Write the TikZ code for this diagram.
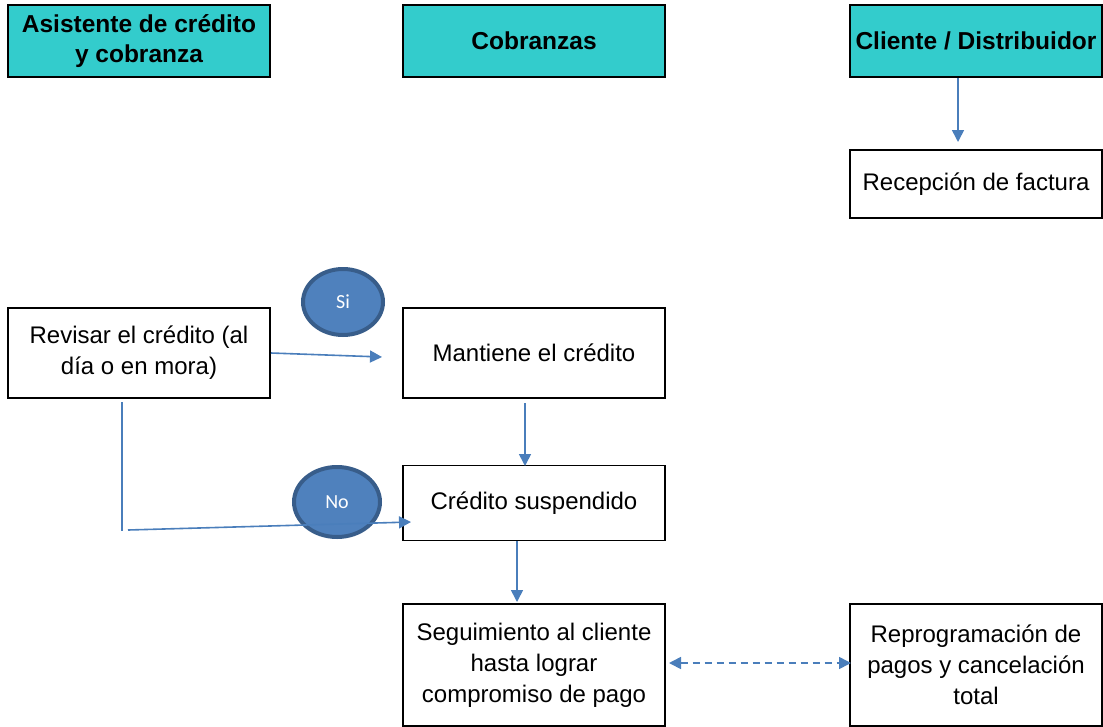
\documentclass[tikz,border=0pt]{standalone}
\usepackage{fontspec}
\setmainfont{Liberation Sans}
\newfontfamily\calfont{Carlito}
\usetikzlibrary{arrows.meta,shapes.geometric}
\definecolor{teal1}{HTML}{33CCCC}
\definecolor{lineblue}{HTML}{4A7EBB}
\definecolor{ellfill}{HTML}{4F81BD}
\definecolor{elldraw}{HTML}{385D8A}
\tikzset{
  hdr/.style={draw=black, line width=2pt, fill=teal1, minimum width=262pt, minimum height=72pt, align=center, font=\fontsize{24.5}{30}\selectfont\bfseries, inner sep=2pt},
  procbox/.style={draw=black, line width=1.8pt, fill=white, align=center, font=\fontsize{24}{31}\selectfont, inner sep=2pt},
  conn/.style={draw=lineblue, line width=1.6pt, -{Triangle[length=12pt,width=12pt]}},
  plain/.style={draw=lineblue, line width=1.6pt},
  dec/.style={ellipse, draw=elldraw, line width=4pt, fill=ellfill, text=white, font=\calfont\fontsize{20}{24}\selectfont, minimum width=80pt, minimum height=66pt, inner sep=0pt}
}
\begin{document}
\begin{tikzpicture}[x=1pt,y=-1pt]
\useasboundingbox (0,0) rectangle (1103,726);
% headers
\node[hdr, minimum width=262pt] (h1) at (139,41) {Asistente de crédito\\y cobranza};
\node[hdr, minimum width=262pt] (h2) at (534,41) {Cobranzas};
\node[hdr, minimum width=252pt] (h3) at (976,41) {Cliente / Distribuidor};
% process boxes
\node[procbox, minimum width=252pt, minimum height=68pt] (rec) at (976,184) {Recepción de factura};
\node[procbox, minimum width=262pt, minimum height=90pt] (rev) at (139,353) {Revisar el crédito (al\\día o en mora)};
\node[procbox, minimum width=262pt, minimum height=90pt] (man) at (534,353) {Mantiene el crédito};
\node[procbox, minimum width=262pt, minimum height=75pt] (sus) at (534,503) {Crédito suspendido};
\node[procbox, minimum width=262pt, minimum height=122pt] (seg) at (534,665) {Seguimiento al cliente\\hasta lograr\\compromiso de pago};
\node[procbox, minimum width=252pt, minimum height=122pt] (rep) at (976,665) {Reprogramación de\\pagos y cancelación\\total};
% decision ellipses
\node[dec] (si) at (343,302) {Si};
% connectors
\coordinate (h3b) at (958,78);
\coordinate (rect) at (958,142);
\draw[conn] (h3b) -- (rect);
\coordinate (revr) at (271,353);
\coordinate (mani) at (382,357);
\draw[conn] (revr) -- (mani);
\coordinate (manb) at (525,403);
\coordinate (sust) at (525,466);
\draw[conn] (manb) -- (sust);
\coordinate (vt) at (122,402);
\coordinate (vb) at (122,531);
\draw[plain] (vt) -- (vb);
\coordinate (hs) at (128,530);
\coordinate (he) at (411,522);
\node[dec, minimum width=86pt, minimum height=70pt] (no) at (337,502) {No};
\draw[conn] (hs) -- (he);
\coordinate (susb) at (517,541);
\coordinate (segt) at (517,602);
\draw[conn] (susb) -- (segt);
\coordinate (dl) at (669,663);
\coordinate (dr) at (851,663);
\draw[conn, dash pattern=on 7pt off 5pt, {Triangle[length=12pt,width=12pt]}-{Triangle[length=12pt,width=12pt]}] (dl) -- (dr);
\end{tikzpicture}
\end{document}
